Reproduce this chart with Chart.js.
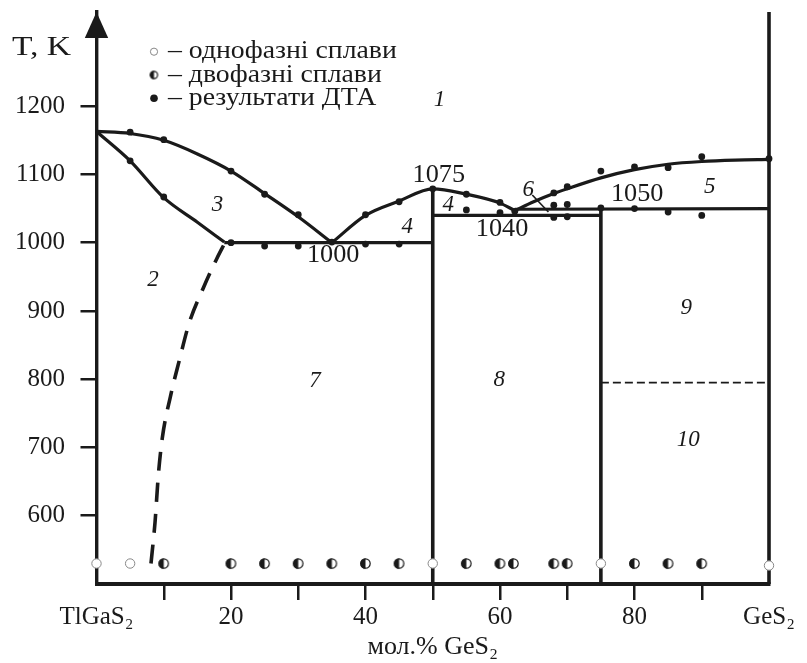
<!DOCTYPE html>
<html>
<head>
<meta charset="utf-8">
<script src="https://cdn.jsdelivr.net/npm/chart.js@4.4.1/dist/chart.umd.min.js"></script>
<style>
  html, body { margin: 0; padding: 0; background: #fff; }
</style>
</head>
<body>
<canvas id="phaseChart" width="807" height="663"></canvas>
<script>
// ---------- TlGaS2 - GeS2 phase diagram

const ink = "#1a1a1a";
const serif = '"Liberation Serif", "Times New Roman", serif';

const xTicks = [0, 10, 20, 30, 40, 50, 60, 70, 80, 90, 100];
const xTickLabels = ["TlGaS₂", "", "20", "", "40", "", "60", "", "80", "", "GeS₂"];
const yTicks = [600, 700, 800, 900, 1000, 1100, 1200];

// lines of the diagram, [mol.% GeS2, T K]
const liquidusLeft = [[0, 1163], [5, 1160], [10, 1150], [15, 1130], [20, 1105], [25, 1072], [30, 1038], [35, 1000]];
const solidusLeft = [[0, 1163], [5, 1120], [10, 1066], [15, 1030], [19, 1001]];
const liquidusMid = [[35, 1000], [40, 1040], [45, 1061], [50, 1079], [55, 1071], [60, 1058], [62.2, 1047]];
const liquidusRight = [[62.2, 1047], [65, 1060], [68, 1072], [70, 1079], [75, 1095], [80, 1107], [85, 1115], [90, 1119], [95, 1121], [100, 1122]];
const eutectic1000 = [[19, 1000], [50, 1000]];
const peritectic1040 = [[50, 1040], [75, 1040]];
const eutectic1050 = [[62.2, 1049], [100, 1050]];
const line50 = [[50, 500], [50, 1079]];
const line75 = [[75, 500], [75, 1050]];
const line100 = [[100, 500], [100, 1338]];
const solvus = [[8.1, 530], [8.7, 590], [9.2, 660], [9.8, 715], [11, 775], [12.3, 827], [13.8, 883], [15.9, 934], [17.9, 977], [19.1, 1000]];
const transition795 = [[75, 795], [100, 795]];
const leader6 = [[64.8, 1070], [67.2, 1045]];

// samples
const singlePhase = [[0, 530], [5, 530], [50, 530], [75, 530], [100, 527]];
const twoPhase = [[10, 530], [20, 530], [25, 530], [30, 530], [35, 530], [40, 530], [45, 530], [55, 530], [60, 530], [62, 530], [68, 530], [70, 530], [80, 530], [85, 530], [90, 530]];
const dtaPoints = [
    [5, 1162], [10, 1151], [20, 1105], [25, 1071], [30, 1041], [35, 1001],
    [5, 1120], [10, 1067],
    [20, 1000], [25, 995], [30, 995], [40, 998], [45, 998],
    [40, 1041], [45, 1060], [50, 1079], [55, 1071], [60, 1059], [62.2, 1046],
    [55, 1048], [60, 1044],
    [68, 1073], [70, 1082], [68, 1055], [70, 1056], [68, 1037], [70, 1038],
    [75, 1105], [75, 1051], [80, 1111], [85, 1110], [90, 1126], [100, 1123],
    [80, 1050], [85, 1045], [90, 1040]
];

// phase field numbers and temperature notes
const regionLabels = [["1", 51, 1209], ["2", 8.4, 945], ["3", 18, 1056], ["4", 46.2, 1023], ["4", 52.3, 1055],
    ["5", 91.2, 1081], ["6", 64.2, 1078], ["7", 32.5, 797], ["8", 59.9, 799], ["9", 87.7, 904], ["10", 88, 711]];
const tempLabels = [["1000", 35.2, 982], ["1075", 50.9, 1099], ["1040", 60.3, 1020], ["1050", 80.4, 1070]];

const legendRows = ["– однофазні сплави", "– двофазні сплави", "– результати ДТА"];


function halfDot(r) {
    const s = Math.ceil(r * 2 + 2);
    const c = document.createElement("canvas");
    c.width = s;
    c.height = s;
    const g = c.getContext("2d");
    const m = s / 2;
    g.fillStyle = "#fff";
    g.beginPath(); g.arc(m, m, r, 0, Math.PI * 2); g.fill();
    g.fillStyle = ink;
    g.beginPath(); g.arc(m, m, r, Math.PI / 2, Math.PI * 1.5); g.closePath(); g.fill();
    g.strokeStyle = ink;
    g.lineWidth = 1.2;
    g.beginPath(); g.arc(m, m, r - 0.6, 0, Math.PI * 2); g.stroke();
    return c;
}

const halfBig = halfDot(5.3);
const halfSmall = halfDot(4.2);

const xy = pts => pts.map(p => ({ x: p[0], y: p[1] }));

function lineSet(pts, width, extra) {
    return Object.assign({
        type: "line",
        data: xy(pts),
        showLine: true,
        borderColor: ink,
        borderWidth: width,
        borderJoinStyle: "round",
        pointRadius: 0,
        fill: false,
        tension: 0,
        clip: false
    }, extra || {});
}

const curve = { cubicInterpolationMode: "monotone" };

// the scan of the original is a bit wider than the font
function wideText(ctx, text, x, y, sx) {
    ctx.save();
    ctx.translate(x, y);
    ctx.scale(sx, 1);
    ctx.fillText(text, 0, 0);
    ctx.restore();
}


// texts, arrow and legend on top of the plot
const overlay = {
    id: "overlay",
    afterDraw(chart) {
        const { ctx, chartArea, scales: { x, y } } = chart;
        ctx.save();

        // arrow of T axis
        ctx.fillStyle = ink;
        ctx.beginPath();
        ctx.moveTo(chartArea.left, chartArea.top);
        ctx.lineTo(chartArea.left - 11.7, chartArea.top + 26);
        ctx.lineTo(chartArea.left + 11.7, chartArea.top + 26);
        ctx.closePath();
        ctx.fill();

        ctx.textBaseline = "middle";
        ctx.textAlign = "left";
        ctx.font = "28px " + serif;
        wideText(ctx, "T, K", 12, 48, 1.2);

        // legend
        const rowY = [51.7, 75, 98.3];
        ctx.font = "25px " + serif;
        legendRows.forEach((t, i) => wideText(ctx, t, 168, rowY[i], 1.11));

        ctx.strokeStyle = "#888";
        ctx.lineWidth = 1;
        ctx.fillStyle = "#fff";
        ctx.beginPath(); ctx.arc(154, rowY[0], 3.6, 0, Math.PI * 2); ctx.fill(); ctx.stroke();
        ctx.drawImage(halfSmall, 154 - halfSmall.width / 2, rowY[1] - halfSmall.height / 2);
        ctx.fillStyle = ink;
        ctx.beginPath(); ctx.arc(154, rowY[2], 3.8, 0, Math.PI * 2); ctx.fill();

        // labels
        ctx.textAlign = "center";
        ctx.font = "italic 23px " + serif;
        regionLabels.forEach(([t, vx, vy]) => ctx.fillText(t, x.getPixelForValue(vx), y.getPixelForValue(vy)));
        ctx.font = "25px " + serif;
        tempLabels.forEach(([t, vx, vy]) => wideText(ctx, t, x.getPixelForValue(vx), y.getPixelForValue(vy), 1.05));

        ctx.restore();
    }
};


const phaseChart = new Chart(document.getElementById("phaseChart"), {

    type: "scatter",

    data: {
        datasets: [
            {
                data: xy(singlePhase),
                pointStyle: "circle",
                pointRadius: 4.7,
                backgroundColor: "#fff",
                borderColor: "#888",
                borderWidth: 1,
                clip: false
            },
            {
                data: xy(twoPhase),
                pointStyle: halfBig,
                pointRadius: 5.3,
                clip: false
            },
            {
                data: xy(dtaPoints),
                pointStyle: "circle",
                pointRadius: 3.4,
                backgroundColor: ink,
                borderWidth: 0,
                clip: false
            },
            lineSet(liquidusLeft, 3.2, curve),
            lineSet(solidusLeft, 3.2, curve),
            lineSet(liquidusMid, 3.2, curve),
            lineSet(liquidusRight, 3.2, curve),
            lineSet(eutectic1000, 3.2),
            lineSet(peritectic1040, 3.2),
            lineSet(eutectic1050, 3.2),
            lineSet(line50, 3.6),
            lineSet(line75, 3.6),
            lineSet(line100, 3.6),
            lineSet(solvus, 3.6, Object.assign({ borderDash: [19, 12] }, curve)),
            lineSet(transition795, 1.8, { borderDash: [8, 4] }),
            lineSet(leader6, 1.6)
        ]
    },

    options: {
        responsive: false,
        animation: false,
        layout: {
            padding: { top: 12, right: 38, left: 0, bottom: 0 }
        },
        plugins: {
            legend: { display: false },
            tooltip: { enabled: false }
        },
        scales: {
            x: {
                type: "linear",
                min: 0,
                max: 100,
                afterBuildTicks: s => { s.ticks = xTicks.map(v => ({ value: v })); },
                afterFit: s => { s.height = 79; s.paddingLeft = 0; s.paddingRight = 0; },
                grid: {
                    drawOnChartArea: false,
                    tickLength: 16,
                    lineWidth: 2.5,
                    color: ink,
                    tickColor: c => (c.tick && (c.tick.value === 0 || c.tick.value === 100)) ? "rgba(0,0,0,0)" : ink
                },
                border: { display: true, color: ink, width: 4 },
                ticks: {
                    autoSkip: false,
                    maxRotation: 0,
                    padding: 2,
                    color: ink,
                    font: { family: serif, size: 25 },
                    callback: v => xTickLabels[xTicks.indexOf(v)]
                },
                title: {
                    display: true,
                    text: "мол.% GeS₂",
                    color: ink,
                    font: { family: serif, size: 26 },
                    padding: { top: 0, bottom: 0 }
                }
            },
            y: {
                type: "linear",
                min: 500,
                max: 1338,
                afterBuildTicks: s => { s.ticks = yTicks.map(v => ({ value: v })); },
                afterFit: s => { s.width = 96.5; s.paddingTop = 0; s.paddingBottom = 0; },
                grid: {
                    drawOnChartArea: false,
                    tickLength: 16,
                    lineWidth: 2.5,
                    color: ink
                },
                border: { display: true, color: ink, width: 3.4 },
                ticks: {
                    padding: 15.5,
                    color: ink,
                    font: { family: serif, size: 25 },
                    callback: v => String(v)
                }
            }
        }
    },

    plugins: [overlay]
});
</script>
</body>
</html>
